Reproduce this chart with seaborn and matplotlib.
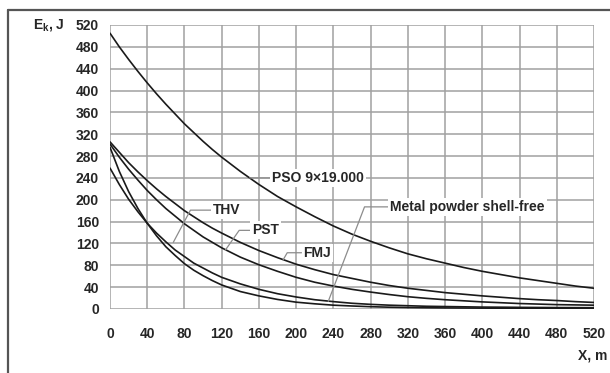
import pandas as pd
import seaborn as sns
import matplotlib.pyplot as plt
from matplotlib.lines import Line2D

# distance, m
distance = [0, 10, 20, 30, 40, 50, 60, 70, 80, 90, 100, 110, 120,
            140, 160, 180, 200, 220, 240, 260, 280, 300, 320, 340, 360,
            380, 400, 420, 440, 460, 480, 500, 520]

# kinetic energy, J
pso = [505, 480, 457, 435, 414, 394, 375, 357, 339, 323, 307, 292, 278,
       252, 228, 206, 187, 169, 152, 137, 124, 112, 101, 92, 84,
       76, 69, 63, 57, 52, 47, 42, 38]
fmj = [306, 287, 268, 251, 235, 220, 206, 193, 180, 169, 158, 148, 139,
       122, 107, 94, 82, 72, 63, 56, 49, 43, 38, 34, 30,
       27, 24, 21.5, 19, 17, 15.5, 13.5, 12]
pst = [302, 278, 256, 236, 217, 200, 184, 170, 156, 144, 132, 122, 112,
       95, 81, 69, 58, 49, 42, 36, 31, 26.5, 22.5, 19.5, 17,
       15, 13, 11.5, 10, 9, 8, 7.5, 7]
metal = [258, 228, 201, 178, 157, 139, 123, 108, 96, 84, 75, 66, 58,
         46, 36, 28, 22, 17, 13.5, 10.5, 8.5, 7, 6, 5, 4.5,
         4, 3.5, 3.3, 3, 2.8, 2.6, 2.5, 2.4]
thv = [296, 252, 215, 184, 157, 134, 114, 98, 83, 71, 61, 52, 44,
       32, 24, 17.5, 12.5, 9.5, 7, 5.5, 4.2, 3.3, 2.7, 2.3, 2,
       1.8, 1.6, 1.5, 1.4, 1.3, 1.2, 1.1, 1.0]

series = {
    "PSO 9×19.000": pso,
    "FMJ": fmj,
    "PST": pst,
    "Metal powder shell-free": metal,
    "THV": thv,
}

ticks = list(range(0, 521, 40))

sns.set_style("white")
plt.rcParams["font.family"] = ["Liberation Sans", "DejaVu Sans"]
plt.rcParams["mathtext.fontset"] = "custom"
plt.rcParams["mathtext.bf"] = "Liberation Sans:bold"
plt.rcParams["mathtext.rm"] = "Liberation Sans"

df = pd.concat(
    [pd.DataFrame({"x": distance, "E": v, "name": k}) for k, v in series.items()]
)

fig = plt.figure(figsize=(6.1, 3.73), dpi=100)
ax = fig.add_axes([110 / 610, 1 - 309 / 373, 484 / 610, 284 / 373])

sns.lineplot(data=df, x="x", y="E", hue="name", units="name", estimator=None,
             palette=["#1a1a1a"] * len(series), linewidth=1.2, legend=False,
             ax=ax, zorder=3)

ax.set_xlim(0, 520)
ax.set_ylim(0, 520)
ax.set_xticks(ticks)
ax.set_yticks(ticks)
ax.grid(True, color="#a0a0a0", linewidth=1.1)
for s in ax.spines.values():
    s.set_visible(False)
ax.tick_params(axis="both", direction="out", length=3, width=1,
               color="#a0a0a0", labelsize=10)
ax.tick_params(axis="x", pad=10)
ax.tick_params(axis="y", pad=5)
for lab in ax.get_xticklabels() + ax.get_yticklabels():
    lab.set_fontweight("bold")
ax.set_xlabel("")
ax.set_ylabel("")

ax.text(-0.093, 1.0, r"$\mathbf{E_k}$, J", transform=ax.transAxes,
        ha="right", va="center", fontsize=10, fontweight="bold")
ax.text(1.027, -0.162, "X, m", transform=ax.transAxes,
        ha="right", va="center", fontsize=10, fontweight="bold")

# labels with leader lines
box = dict(boxstyle="square,pad=0.15", fc="white", ec="none")
lead = dict(arrowstyle="-", color="#8c8c8c", lw=0.9, shrinkA=0, shrinkB=0)

ax.annotate("PSO 9×19.000", xy=(150, 240), xytext=(174, 240),
            ha="left", va="center", fontsize=10, fontweight="bold",
            bbox=box, arrowprops=lead, zorder=4)
ax.annotate("THV", xy=(68, 122), xytext=(111, 181),
            ha="left", va="center", fontsize=10, fontweight="bold", bbox=box,
            arrowprops=dict(lead, connectionstyle="angle,angleA=0,angleB=62,rad=0"),
            zorder=4)
ax.annotate("PST", xy=(124, 108), xytext=(153, 144),
            ha="left", va="center", fontsize=10, fontweight="bold", bbox=box,
            arrowprops=dict(lead, connectionstyle="angle,angleA=0,angleB=55,rad=0"),
            zorder=4)
ax.annotate("FMJ", xy=(186, 90), xytext=(208, 103),
            ha="left", va="center", fontsize=10, fontweight="bold", bbox=box,
            arrowprops=dict(lead, connectionstyle="angle,angleA=0,angleB=60,rad=0"),
            zorder=4)
ax.annotate("Metal powder shell-free", xy=(234.5, 14), xytext=(301, 187),
            ha="left", va="center", fontsize=10, fontweight="bold", bbox=box,
            arrowprops=dict(lead, connectionstyle="angle,angleA=0,angleB=69,rad=0"),
            zorder=4)

# outer frame (left and top edges only)
fx, fy = 8 / 610, 1 - 10 / 373
fig.add_artist(Line2D([fx, fx], [0, fy], transform=fig.transFigure,
                      color="#555555", lw=1.6))
fig.add_artist(Line2D([fx, 1], [fy, fy], transform=fig.transFigure,
                      color="#555555", lw=1.6))

plt.savefig("out.png", dpi=100)
plt.close()
